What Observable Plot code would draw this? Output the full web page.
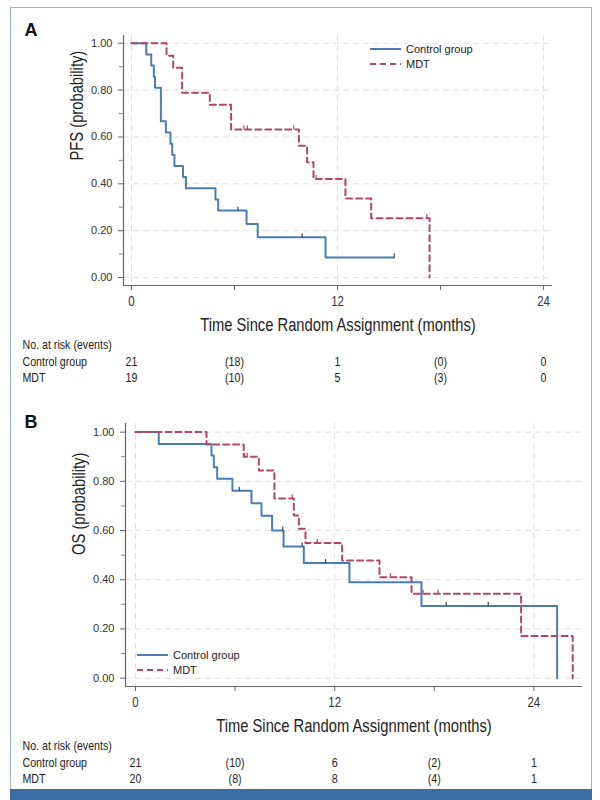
<!DOCTYPE html>
<html><head><meta charset="utf-8">
<script src="https://cdn.jsdelivr.net/npm/d3@7"></script>
<script src="https://cdn.jsdelivr.net/npm/@observablehq/plot@0.6"></script>
<style>
body{margin:0;background:#fff;}
#wrap{position:relative;width:600px;height:800px;overflow:hidden;background:#fff;}
#frame{position:absolute;left:10px;top:7px;width:582px;height:784px;border:1.5px solid #9db1c5;border-bottom:none;box-sizing:border-box;}
#bar{position:absolute;left:10px;top:789px;width:582px;height:11px;background:#3a6ea5;}
.panel{position:absolute;left:0;}
.legend{position:absolute;left:0;}
</style></head><body>
<div id="wrap"><div id="frame"></div><div id="bar"></div></div>
<script>
// ---- data ----
const riskTimes = [0, 6, 12, 18, 24];
const groups = ["Control group", "MDT"];
const riskA_ctrl = ["21", "(18)", "1", "(0)", "0"];
const riskA_mdt  = ["19", "(10)", "5", "(3)", "0"];
const riskB_ctrl = ["21", "(10)", "6", "(2)", "1"];
const riskB_mdt  = ["20", "(8)", "8", "(4)", "1"];

// Panel A: PFS
const ctrlPFS_t = [0, 0.86, 1.15, 1.3, 1.37, 1.71, 2.0, 2.27, 2.37, 2.5, 3.0, 3.17, 4.89, 5.05, 6.7, 7.35, 11.3, 15.3];
const ctrlPFS_s = [1, 0.952, 0.905, 0.857, 0.810, 0.667, 0.619, 0.571, 0.524, 0.476, 0.429, 0.381, 0.333, 0.286, 0.229, 0.172, 0.086, 0.086];
const ctrlPFS_cens_t = [6.2, 9.94, 15.3];
const ctrlPFS_cens_s = [0.286, 0.172, 0.086];
const mdtPFS_t = [0, 2.04, 2.43, 2.95, 4.56, 5.8, 9.75, 10.23, 10.6, 12.46, 13.96, 17.36];
const mdtPFS_s = [1, 0.947, 0.895, 0.789, 0.737, 0.632, 0.562, 0.492, 0.421, 0.337, 0.253, 0];
const mdtPFS_cens_t = [6.55, 6.75, 9.45, 10.75, 17.2];
const mdtPFS_cens_s = [0.632, 0.632, 0.632, 0.421, 0.253];

// Panel B: OS
const ctrlOS_t = [0, 1.4, 4.58, 4.72, 4.92, 5.84, 6.99, 7.59, 8.23, 8.92, 10.14, 12.89, 17.23, 25.4];
const ctrlOS_s = [1, 0.952, 0.905, 0.857, 0.810, 0.762, 0.711, 0.660, 0.600, 0.535, 0.468, 0.390, 0.293, 0];
const ctrlOS_cens_t = [6.25, 8.87, 10.04, 11.45, 18.72, 21.25];
const ctrlOS_cens_s = [0.762, 0.600, 0.535, 0.468, 0.293, 0.293];
const mdtOS_t = [0, 4.28, 6.52, 7.43, 8.37, 9.54, 9.84, 10.24, 12.45, 14.7, 16.63, 23.23, 26.34];
const mdtOS_s = [1, 0.95, 0.90, 0.844, 0.73, 0.661, 0.607, 0.549, 0.478, 0.41, 0.343, 0.171, 0];
const mdtOS_cens_t = [6.57, 6.73, 9.44, 10.95, 15.36, 17.33, 18.23];
const mdtOS_cens_s = [0.90, 0.90, 0.73, 0.549, 0.41, 0.343, 0.343];

const yMajor = [0, 0.2, 0.4, 0.6, 0.8, 1.0];
const yMinor = [0.1, 0.3, 0.5, 0.7, 0.9];
const xTicks = [0, 6, 12, 18, 24];
const xGrid = [0, 12, 24];

// ---- styles ----
const BLUE = "#4a7db4", RED = "#b3446c";
const NARROW = '"Liberation Sans", sans-serif';          // condensed afterwards
const REG = '"Liberation Sans", Arial, sans-serif';
const censorSymbol = {draw(ctx) { ctx.moveTo(0, 0); ctx.lineTo(0, -4); }};

const zip = (t, s) => t.map((v, i) => ({t: v, s: s[i]}));

function panel(cfg) {
  const table = riskTimes.map((t, i) => ({t, c: cfg.riskC[i], m: cfg.riskM[i]}));
  const svg = Plot.plot({
    width: 600, height: 395,
    marginLeft: cfg.ml, marginRight: cfg.mr, marginTop: cfg.mt, marginBottom: cfg.mb,
    x: {domain: cfg.xd},
    y: {domain: cfg.yd},
    style: {fontFamily: REG, fontSize: "11px", color: "#333", background: "transparent", overflow: "visible"},
    marks: [
      Plot.ruleY(yMajor, {stroke: "#e0e0e0", strokeDasharray: "6,4"}),
      Plot.ruleX(xGrid, {stroke: "#e0e0e0", strokeDasharray: "6,4"}),
      Plot.ruleX([cfg.xd[0]], {stroke: "#666", strokeWidth: 1.2}),
      Plot.ruleY([cfg.yd[0]], {stroke: "#666", strokeWidth: 1.2}),
      Plot.axisY({ticks: yMajor, tickFormat: d3.format(".2f"), tickSize: 5, tickPadding: 6, fontSize: 11, label: null, stroke: "#666"}),
      Plot.axisY({ticks: yMinor, tickFormat: () => "", tickSize: 4, label: null, stroke: "#888"}),
      Plot.axisX({ticks: xTicks, tickFormat: d => (d % 12 === 0 ? String(d) : ""), tickSize: 5, tickPadding: 6, fontSize: 14, fontFamily: NARROW, label: null, stroke: "#666"}),
      Plot.line(zip(cfg.ct, cfg.cs), {x: "t", y: "s", curve: "step-after", stroke: BLUE, strokeWidth: 2}),
      Plot.line(zip(cfg.mt_, cfg.ms), {x: "t", y: "s", curve: "step-after", stroke: RED, strokeWidth: 2, strokeDasharray: "6,4"}),
      Plot.dot(zip(cfg.cct, cfg.ccs), {x: "t", y: "s", symbol: censorSymbol, stroke: "#444", strokeWidth: 1.2, fill: "none"}),
      Plot.dot(zip(cfg.mct, cfg.mcs), {x: "t", y: "s", symbol: censorSymbol, stroke: RED, strokeWidth: 1.2, fill: "none"}),
      Plot.text([cfg.letter], {frameAnchor: "top-left", dx: 24 - cfg.ml, dy: cfg.letterY - cfg.mt, textAnchor: "start", fontSize: 18, fontWeight: "bold", fontFamily: REG, fill: "#111"}),
      Plot.text([cfg.ylabel], {frameAnchor: "left", dx: -46, rotate: -90, fontSize: 18, fontFamily: NARROW, fill: "#222"}),
      Plot.text(["Time Since Random Assignment (months)"], {frameAnchor: "bottom", dy: 45, fontSize: 18, fontFamily: NARROW, fill: "#222"}),
      Plot.text(["No. at risk (events)"], {frameAnchor: "bottom-left", dx: 22 - cfg.ml, dy: 63, textAnchor: "start", fontSize: 13, fontFamily: NARROW, fill: "#222"}),
      Plot.text([groups[0]], {frameAnchor: "bottom-left", dx: 22 - cfg.ml, dy: 80, textAnchor: "start", fontSize: 13, fontFamily: NARROW, fill: "#222"}),
      Plot.text([groups[1]], {frameAnchor: "bottom-left", dx: 22 - cfg.ml, dy: 96, textAnchor: "start", fontSize: 13, fontFamily: NARROW, fill: "#222"}),
      Plot.text(table, {x: "t", text: "c", frameAnchor: "bottom", dy: 80, fontSize: 13, fontFamily: NARROW, fill: "#222"}),
      Plot.text(table, {x: "t", text: "m", frameAnchor: "bottom", dy: 96, fontSize: 13, fontFamily: NARROW, fill: "#222"})
    ]
  });
  // emulate a narrow (condensed) face by compressing glyphs horizontally
  svg.querySelectorAll("g").forEach(g => {
    if (g.getAttribute("font-family") === NARROW) {
      g.querySelectorAll("text").forEach(t => {
        t.setAttribute("transform", (t.getAttribute("transform") || "") + " scale(0.82,1)");
      });
    }
  });
  return svg;
}

function legend(x0, y0) {
  const svg = d3.create("svg").attr("width", 130).attr("height", 34);
  groups.forEach((g, i) => {
    const y = 8 + i * 15;
    svg.append("line").attr("x1", 2).attr("x2", 33).attr("y1", y).attr("y2", y)
      .attr("stroke", i === 0 ? BLUE : RED).attr("stroke-width", 2)
      .attr("stroke-dasharray", i === 0 ? null : "6,4");
    svg.append("text").attr("x", 38).attr("y", y).attr("dy", "0.35em")
      .attr("font-family", REG).attr("font-size", 11).attr("fill", "#222").text(g);
  });
  const n = svg.node();
  n.classList.add("legend");
  n.style.left = x0 + "px"; n.style.top = y0 + "px";
  return n;
}

const wrap = document.getElementById("wrap");
const A = panel({
  letter: "A", letterY: 23, ylabel: "PFS (probability)",
  ml: 123, mr: 48, mt: 35, mb: 110,
  xd: [-0.466, 24.52], yd: [-0.034, 1.033],
  ct: ctrlPFS_t, cs: ctrlPFS_s, cct: ctrlPFS_cens_t, ccs: ctrlPFS_cens_s,
  mt_: mdtPFS_t, ms: mdtPFS_s, mct: mdtPFS_cens_t, mcs: mdtPFS_cens_s,
  riskC: riskA_ctrl, riskM: riskA_mdt
});
A.classList.add("panel"); A.style.top = "0px";
wrap.appendChild(A);
const B = panel({
  letter: "B", letterY: 20, ylabel: "OS (probability)",
  ml: 125, mr: 18, mt: 28, mb: 104,
  xd: [-0.602, 26.93], yd: [-0.034, 1.035],
  ct: ctrlOS_t, cs: ctrlOS_s, cct: ctrlOS_cens_t, ccs: ctrlOS_cens_s,
  mt_: mdtOS_t, ms: mdtOS_s, mct: mdtOS_cens_t, mcs: mdtOS_cens_s,
  riskC: riskB_ctrl, riskM: riskB_mdt
});
B.classList.add("panel"); B.style.top = "395px";
wrap.appendChild(B);
wrap.appendChild(legend(368, 41));
wrap.appendChild(legend(135, 647));
</script>
</body></html>
